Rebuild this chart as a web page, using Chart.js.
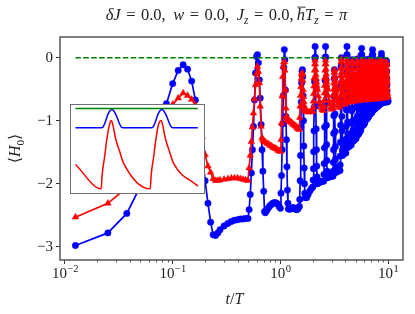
<!DOCTYPE html>
<html>
<head>
<meta charset="utf-8">
<script src="https://cdn.jsdelivr.net/npm/chart.js@4.4.0/dist/chart.umd.min.js"></script>
<style>
  html, body { margin: 0; padding: 0; background: #fff; }
  #wrap { position: relative; width: 415px; height: 314px; }
  canvas { display: block; }
  #inset { position: absolute; left: 70px; top: 104px; width: 135px; height: 90px;
           border: 1.5px solid #707070; box-sizing: border-box; background: #fff; }
</style>
</head>
<body>
<div id="wrap">
  <canvas id="main" width="415" height="314"></canvas>
  <div id="inset"><canvas id="small" width="132" height="87"></canvas></div>
</div>
<script>
// sample times t/T (shared by both series), one revival per row after t = 2
const times = [
  0.0125, 0.025, 0.0375, 0.05, 0.0625, 0.075, 0.0875, 0.1, 0.1125, 0.125, 0.1375, 0.15, 0.1625, 0.175, 0.1875, 0.2, 0.2125, 0.225, 0.2375, 0.25,
  0.2625, 0.275, 0.3, 0.325, 0.35, 0.375, 0.4, 0.425, 0.45, 0.475, 0.5,
  0.5125, 0.525, 0.5375, 0.55, 0.5625, 0.575, 0.5875, 0.6, 0.6125, 0.625, 0.6375, 0.65, 0.6625, 0.675, 0.6875, 0.7, 0.7125,
  0.725, 0.75, 0.775, 0.8, 0.825, 0.85, 0.875, 0.9, 0.925, 0.95, 0.975, 1.0,
  1.0125, 1.025, 1.0375, 1.05, 1.0625, 1.075, 1.0875, 1.1, 1.1125, 1.125, 1.1375, 1.15, 1.1625, 1.175, 1.1875, 1.2,
  1.225, 1.25, 1.275, 1.3, 1.325, 1.35, 1.375, 1.4, 1.425, 1.45, 1.475, 1.5,
  1.5125, 1.525, 1.5375, 1.55, 1.5625, 1.575, 1.5875, 1.6, 1.6125, 1.625, 1.6375, 1.65, 1.6625, 1.675, 1.6875, 1.7,
  1.75, 1.8, 1.85, 1.9, 1.95,
  2.0, 2.0125, 2.025, 2.0375, 2.05, 2.0625, 2.075, 2.0875, 2.1, 2.1125, 2.125, 2.1375, 2.15, 2.1625, 2.175, 2.1875, 2.2, 2.25, 2.3, 2.35, 2.4, 2.45,
  2.525, 2.5375, 2.55, 2.5625, 2.575, 2.5875, 2.6, 2.6125, 2.625, 2.6375, 2.65, 2.6625, 2.675, 2.6875, 2.7, 2.7125, 2.725, 2.775, 2.825, 2.875, 2.925, 2.975,
  3.075, 3.0875, 3.1, 3.1125, 3.125, 3.1375, 3.15, 3.1625, 3.175, 3.1875, 3.2, 3.2125, 3.225, 3.2375, 3.25, 3.2625, 3.275, 3.325, 3.375, 3.425, 3.475, 3.525,
  3.575, 3.5875, 3.6, 3.6125, 3.625, 3.6375, 3.65, 3.6625, 3.675, 3.6875, 3.7, 3.7125, 3.725, 3.7375, 3.75, 3.7625, 3.775, 3.85, 3.925, 4.0,
  4.05, 4.0625, 4.075, 4.0875, 4.1, 4.1125, 4.125, 4.1375, 4.15, 4.1625, 4.175, 4.1875, 4.2, 4.2125, 4.225, 4.2375, 4.25, 4.325, 4.4, 4.475,
  4.55, 4.5625, 4.575, 4.5875, 4.6, 4.6125, 4.625, 4.6375, 4.65, 4.6625, 4.675, 4.6875, 4.7, 4.7125, 4.725, 4.7375, 4.75, 4.825, 4.9, 4.975,
  5.05, 5.0625, 5.075, 5.0875, 5.1, 5.1125, 5.125, 5.1375, 5.15, 5.1625, 5.175, 5.1875, 5.2, 5.2125, 5.225, 5.2375, 5.25, 5.325, 5.4, 5.475,
  5.575, 5.5875, 5.6, 5.6125, 5.625, 5.6375, 5.65, 5.6625, 5.675, 5.6875, 5.7, 5.7125, 5.725, 5.7375, 5.75, 5.7625, 5.775, 5.85, 5.925, 6.0,
  6.075, 6.0875, 6.1, 6.1125, 6.125, 6.1375, 6.15, 6.1625, 6.175, 6.1875, 6.2, 6.2125, 6.225, 6.2375, 6.25, 6.2625, 6.275, 6.35, 6.425, 6.5,
  6.575, 6.5875, 6.6, 6.6125, 6.625, 6.6375, 6.65, 6.6625, 6.675, 6.6875, 6.7, 6.7125, 6.725, 6.7375, 6.75, 6.7625, 6.775, 6.85, 6.925, 7.0,
  7.075, 7.0875, 7.1, 7.1125, 7.125, 7.1375, 7.15, 7.1625, 7.175, 7.1875, 7.2, 7.2125, 7.225, 7.2375, 7.25, 7.2625, 7.275, 7.35, 7.425, 7.5,
  7.575, 7.5875, 7.6, 7.6125, 7.625, 7.6375, 7.65, 7.6625, 7.675, 7.6875, 7.7, 7.7125, 7.725, 7.7375, 7.75, 7.7625, 7.775, 7.85, 7.925, 8.0,
  8.075, 8.0875, 8.1, 8.1125, 8.125, 8.1375, 8.15, 8.1625, 8.175, 8.1875, 8.2, 8.2125, 8.225, 8.2375, 8.25, 8.2625, 8.275, 8.35, 8.425, 8.5,
  8.575, 8.5875, 8.6, 8.6125, 8.625, 8.6375, 8.65, 8.6625, 8.675, 8.6875, 8.7, 8.7125, 8.725, 8.7375, 8.75, 8.7625, 8.775, 8.85, 8.925, 9.0,
  9.075, 9.0875, 9.1, 9.1125, 9.125, 9.1375, 9.15, 9.1625, 9.175, 9.1875, 9.2, 9.2125, 9.225, 9.2375, 9.25, 9.2625, 9.275, 9.35, 9.425, 9.5,
  9.575, 9.5875, 9.6, 9.6125, 9.625, 9.6375, 9.65, 9.6625, 9.675, 9.6875, 9.7, 9.7125, 9.725, 9.7375, 9.75, 9.7625, 9.775, 9.85, 9.925, 10.0
];

// <H0>, blue circles
const blueVals = [
  -2.98, -2.78, -2.47, -2.04, -1.58, -1.13, -0.73, -0.41, -0.20, -0.11, -0.18, -0.37, -0.67, -1.05, -1.50, -1.95, -2.31, -2.61, -2.81, -2.82,
  -2.78, -2.73, -2.67, -2.63, -2.60, -2.58, -2.57, -2.56, -2.56, -2.55, -2.55,
  -2.41, -2.17, -1.83, -1.46, -1.09, -0.67, -0.24, 0.02, 0.05, -0.08, -0.35, -0.64, -1.06, -1.46, -1.80, -2.12, -2.44,
  -2.46, -2.42, -2.38, -2.35, -2.33, -2.31, -2.30, -2.30, -2.31, -2.33, -2.36, -2.39,
  -2.15, -1.87, -1.46, -1.05, -0.60, -0.15, 0.13, -0.03, -0.51, -0.93, -1.30, -1.73, -2.10, -2.31, -2.40, -2.40,
  -2.40, -2.40, -2.39, -2.38, -2.38, -2.39, -2.40, -2.41, -2.41, -2.40, -2.38, -2.36,
  -2.25, -1.95, -1.55, -1.10, -0.70, -0.40, -0.22, -0.19, -0.30, -0.60, -1.00, -1.40, -1.75, -2.00, -2.15, -2.22,
  -2.22, -2.18, -2.13, -2.10, -2.07,
  -2.05, -1.94, -1.76, -1.49, -1.16, -0.78, -0.38, 0.00, 0.18, 0.01, -0.37, -0.76, -1.13, -1.46, -1.72, -1.89, -2.00, -1.99, -1.98, -1.97, -1.96, -1.96,
  -1.96, -1.85, -1.68, -1.43, -1.10, -0.74, -0.36, 0.01, 0.18, 0.01, -0.34, -0.71, -1.07, -1.38, -1.63, -1.80, -1.90, -1.90, -1.89, -1.89, -1.88, -1.88,
  -1.88, -1.80, -1.66, -1.46, -1.20, -0.92, -0.61, -0.33, -0.19, -0.32, -0.60, -0.89, -1.17, -1.41, -1.61, -1.74, -1.82, -1.81, -1.80, -1.80, -1.79, -1.79,
  -1.79, -1.70, -1.56, -1.34, -1.07, -0.77, -0.45, -0.14, 0.00, -0.12, -0.39, -0.67, -0.93, -1.16, -1.35, -1.47, -1.55, -1.53, -1.52, -1.51,
  -1.51, -1.43, -1.29, -1.09, -0.83, -0.55, -0.24, 0.04, 0.18, 0.05, -0.22, -0.51, -0.78, -1.02, -1.21, -1.34, -1.42, -1.41, -1.40, -1.39,
  -1.38, -1.31, -1.20, -1.04, -0.84, -0.61, -0.37, -0.14, -0.03, -0.13, -0.35, -0.58, -0.80, -1.00, -1.15, -1.26, -1.32, -1.31, -1.30, -1.29,
  -1.28, -1.22, -1.12, -0.97, -0.78, -0.56, -0.34, -0.12, -0.02, -0.12, -0.32, -0.54, -0.74, -0.92, -1.06, -1.16, -1.22, -1.21, -1.19, -1.17,
  -1.15, -1.09, -0.98, -0.83, -0.63, -0.41, -0.18, 0.05, 0.15, 0.05, -0.16, -0.38, -0.59, -0.77, -0.92, -1.02, -1.08, -1.07, -1.06, -1.05,
  -1.03, -0.98, -0.90, -0.78, -0.63, -0.46, -0.28, -0.11, -0.03, -0.11, -0.27, -0.44, -0.60, -0.74, -0.86, -0.93, -0.98, -0.97, -0.96, -0.95,
  -0.94, -0.89, -0.82, -0.71, -0.57, -0.42, -0.25, -0.09, -0.02, -0.09, -0.24, -0.40, -0.55, -0.68, -0.79, -0.86, -0.90, -0.89, -0.88, -0.87,
  -0.87, -0.82, -0.74, -0.62, -0.47, -0.30, -0.12, 0.05, 0.13, 0.05, -0.11, -0.28, -0.45, -0.59, -0.71, -0.78, -0.83, -0.82, -0.82, -0.81,
  -0.81, -0.77, -0.71, -0.62, -0.50, -0.37, -0.23, -0.10, -0.04, -0.10, -0.22, -0.36, -0.48, -0.60, -0.68, -0.74, -0.78, -0.77, -0.77, -0.77,
  -0.77, -0.73, -0.67, -0.59, -0.47, -0.35, -0.22, -0.09, -0.03, -0.09, -0.21, -0.34, -0.46, -0.56, -0.65, -0.70, -0.74, -0.74, -0.73, -0.73,
  -0.73, -0.69, -0.63, -0.53, -0.41, -0.27, -0.13, 0.01, 0.07, 0.01, -0.13, -0.27, -0.40, -0.52, -0.61, -0.67, -0.71, -0.71, -0.70, -0.70,
  -0.71, -0.68, -0.62, -0.55, -0.45, -0.33, -0.22, -0.10, -0.05, -0.10, -0.21, -0.33, -0.44, -0.54, -0.62, -0.67, -0.70, -0.70, -0.70, -0.70,
  -0.70, -0.67, -0.62, -0.54, -0.44, -0.33, -0.21, -0.10, -0.05, -0.10, -0.21, -0.33, -0.44, -0.54, -0.62, -0.67, -0.70, -0.70, -0.69, -0.69
];

// <H0>, red triangles
const redVals = [
  -2.53, -2.31, -2.06, -1.76, -1.45, -1.15, -0.90, -0.74, -0.64, -0.56, -0.60, -0.66, -0.75, -0.98, -1.25, -1.54, -1.72, -1.82, -1.92, -1.95,
  -1.95, -1.94, -1.93, -1.92, -1.91, -1.91, -1.91, -1.92, -1.93, -1.94, -1.95,
  -1.75, -1.55, -1.33, -1.10, -0.88, -0.65, -0.43, -0.25, -0.14, -0.22, -0.40, -0.77, -1.09, -1.27, -1.30, -1.32, -1.33,
  -1.34, -1.36, -1.37, -1.39, -1.40, -1.42, -1.43, -1.44, -1.45, -1.47, -1.48, -1.49,
  -1.30, -1.04, -0.61, -0.30, -0.14, -0.07, -0.06, -0.20, -0.51, -0.80, -0.93, -0.96, -0.98, -0.99, -1.00, -1.00,
  -1.01, -1.02, -1.03, -1.05, -1.06, -1.07, -1.08, -1.09, -1.11, -1.12, -1.13, -1.14,
  -0.95, -0.77, -0.60, -0.46, -0.33, -0.26, -0.24, -0.27, -0.36, -0.51, -0.62, -0.70, -0.76, -0.80, -0.83, -0.85,
  -0.85, -0.86, -0.86, -0.86, -0.85,
  -0.85, -0.79, -0.69, -0.57, -0.45, -0.32, -0.20, -0.10, -0.04, -0.10, -0.19, -0.27, -0.33, -0.39, -0.44, -0.48, -0.51, -0.61, -0.69, -0.75, -0.80, -0.83,
  -0.84, -0.78, -0.68, -0.56, -0.44, -0.32, -0.20, -0.10, -0.04, -0.10, -0.18, -0.26, -0.33, -0.38, -0.43, -0.47, -0.50, -0.60, -0.68, -0.74, -0.79, -0.82,
  -0.80, -0.75, -0.68, -0.59, -0.50, -0.40, -0.31, -0.23, -0.19, -0.23, -0.30, -0.36, -0.41, -0.45, -0.49, -0.52, -0.54, -0.62, -0.68, -0.73, -0.76, -0.79,
  -0.76, -0.70, -0.61, -0.50, -0.39, -0.28, -0.17, -0.07, -0.02, -0.07, -0.15, -0.23, -0.29, -0.34, -0.38, -0.42, -0.45, -0.56, -0.67, -0.74,
  -0.72, -0.66, -0.58, -0.48, -0.38, -0.27, -0.17, -0.08, -0.03, -0.08, -0.15, -0.22, -0.28, -0.33, -0.37, -0.40, -0.43, -0.53, -0.64, -0.70,
  -0.70, -0.65, -0.57, -0.47, -0.38, -0.28, -0.18, -0.10, -0.05, -0.10, -0.17, -0.23, -0.28, -0.33, -0.37, -0.40, -0.43, -0.52, -0.62, -0.68,
  -0.69, -0.64, -0.56, -0.47, -0.37, -0.27, -0.18, -0.09, -0.05, -0.09, -0.17, -0.23, -0.28, -0.33, -0.36, -0.40, -0.42, -0.52, -0.61, -0.67,
  -0.68, -0.63, -0.55, -0.46, -0.36, -0.26, -0.17, -0.09, -0.04, -0.09, -0.16, -0.22, -0.27, -0.32, -0.35, -0.39, -0.41, -0.51, -0.60, -0.66,
  -0.67, -0.62, -0.55, -0.46, -0.37, -0.27, -0.18, -0.10, -0.06, -0.10, -0.17, -0.23, -0.28, -0.32, -0.36, -0.39, -0.41, -0.51, -0.60, -0.65,
  -0.67, -0.62, -0.55, -0.45, -0.36, -0.27, -0.17, -0.09, -0.05, -0.09, -0.16, -0.22, -0.27, -0.32, -0.35, -0.38, -0.41, -0.50, -0.60, -0.65,
  -0.66, -0.61, -0.54, -0.45, -0.36, -0.26, -0.17, -0.09, -0.05, -0.09, -0.16, -0.22, -0.27, -0.31, -0.35, -0.38, -0.40, -0.50, -0.59, -0.64,
  -0.66, -0.61, -0.54, -0.45, -0.37, -0.28, -0.19, -0.11, -0.07, -0.11, -0.18, -0.24, -0.28, -0.32, -0.36, -0.39, -0.41, -0.50, -0.59, -0.64,
  -0.65, -0.60, -0.53, -0.44, -0.36, -0.27, -0.18, -0.10, -0.06, -0.10, -0.17, -0.23, -0.27, -0.31, -0.35, -0.38, -0.40, -0.49, -0.58, -0.63,
  -0.65, -0.60, -0.53, -0.44, -0.35, -0.26, -0.17, -0.09, -0.05, -0.09, -0.16, -0.22, -0.27, -0.31, -0.34, -0.37, -0.40, -0.49, -0.58, -0.63,
  -0.64, -0.59, -0.53, -0.44, -0.36, -0.27, -0.18, -0.11, -0.07, -0.11, -0.17, -0.23, -0.28, -0.32, -0.35, -0.38, -0.40, -0.49, -0.57, -0.62,
  -0.64, -0.59, -0.53, -0.44, -0.36, -0.27, -0.18, -0.11, -0.07, -0.11, -0.17, -0.23, -0.28, -0.32, -0.35, -0.38, -0.40, -0.49, -0.57, -0.62
];

// green dashed reference at 0
const refTimes = [0.0125, 10.0];
const refVals = [0, 0];

// inset: one zoomed period pair, arbitrary units
const insetBlueX = [0, 0.1, 0.21, 0.225, 0.24, 0.251, 0.265, 0.28, 0.297, 0.315, 0.33, 0.346, 0.36, 0.375, 0.39, 0.5,
                    0.619, 0.634, 0.649, 0.66, 0.674, 0.689, 0.706, 0.724, 0.739, 0.755, 0.769, 0.784, 0.799, 0.9, 1.0];
const insetBlueY = [-0.72, -0.72, -0.72, -0.69, -0.55, -0.40, -0.22, -0.09, -0.04, -0.10, -0.23, -0.40, -0.57, -0.69, -0.72, -0.72,
                    -0.72, -0.69, -0.55, -0.40, -0.22, -0.09, -0.04, -0.10, -0.23, -0.40, -0.57, -0.69, -0.72, -0.72, -0.72];
const insetRedX = [0, 0.21, 0.218, 0.237, 0.256, 0.278, 0.292, 0.305, 0.327, 0.36, 0.392,
                   0.611, 0.619, 0.638, 0.657, 0.679, 0.699, 0.712, 0.734, 0.767, 0.8, 1.0];
const insetRedY = [-2.09, -3.0, -2.47, -1.84, -1.16, -0.60, -0.45, -0.60, -1.10, -1.59, -2.03,
                   -3.0, -2.47, -1.84, -1.16, -0.60, -0.45, -0.60, -1.10, -1.59, -2.03, -2.90];
const insetGreenX = [0, 1];
const insetGreenY = [0, 0];

// axis ticks
const xMajor = [0.01, 0.1, 1, 10];
const xExponents = ['\u22122', '\u22121', '0', '1'];
const xMinor = [0.02, 0.03, 0.04, 0.05, 0.06, 0.07, 0.08, 0.09,
                0.2, 0.3, 0.4, 0.5, 0.6, 0.7, 0.8, 0.9,
                2, 3, 4, 5, 6, 7, 8, 9];
const yTicks = [0, -1, -2, -3];
const yTickLabels = ['0', '\u22121', '\u22122', '\u22123'];

const SERIF = '"Liberation Serif", "DejaVu Serif", serif';

const toPoints = (xs, ys) => xs.map((x, i) => ({ x: x, y: ys[i] }));

// draw a row of text pieces: {t, it: italic, sub: subscript, bar: overline}
function drawRich(ctx, parts, cx, y, size) {
  const fontOf = p => (p.it ? 'italic ' : '') + (p.sub ? size * 0.7 : size) + 'px ' + SERIF;
  let total = 0;
  const widths = parts.map(p => { ctx.font = fontOf(p); const w = ctx.measureText(p.t).width; total += w; return w; });
  let x = cx - total / 2;
  parts.forEach((p, i) => {
    ctx.font = fontOf(p);
    ctx.fillText(p.t, x, y + (p.sub ? size * 0.22 : 0));
    if (p.bar) {
      ctx.save();
      ctx.lineWidth = 0.9;
      ctx.strokeStyle = ctx.fillStyle;
      ctx.beginPath();
      ctx.moveTo(x + 0.5, y - size * 0.78);
      ctx.lineTo(x + widths[i] + 0.5, y - size * 0.78);
      ctx.stroke();
      ctx.restore();
    }
    x += widths[i];
  });
}

const EQ = '\u2004=\u2004';
const SEP = ', \u2009';
const titleParts = [
  { t: '\u03b4', it: true }, { t: 'J', it: true }, { t: EQ + '0.0' + SEP },
  { t: 'w', it: true }, { t: EQ + '0.0' + SEP },
  { t: 'J', it: true }, { t: 'z', it: true, sub: true }, { t: EQ + '0.0,\u2009' },
  { t: 'h', it: true, bar: true }, { t: 'T', it: true }, { t: 'z', it: true, sub: true }, { t: EQ },
  { t: '\u03c0', it: true }
];
const xLabelParts = [{ t: 't', it: true }, { t: '/' }, { t: 'T', it: true }];
const yLabelParts = [{ t: '\u27e8' }, { t: 'H', it: true }, { t: '0', sub: true }, { t: '\u27e9' }];

const framePlugin = {
  id: 'frame',
  afterDraw(chart) {
    const { ctx, chartArea: a, scales } = chart;
    ctx.save();
    // minor ticks on the log axis
    ctx.strokeStyle = '#333';
    ctx.lineWidth = 0.8;
    xMinor.forEach(v => {
      const px = Math.round(scales.x.getPixelForValue(v)) + 0.5;
      ctx.beginPath();
      ctx.moveTo(px, a.bottom);
      ctx.lineTo(px, a.bottom + 2.5);
      ctx.stroke();
    });
    // axes box
    ctx.strokeStyle = '#555';
    ctx.lineWidth = 1.5;
    ctx.strokeRect(a.left, a.top, a.right - a.left, a.bottom - a.top);

    ctx.fillStyle = '#222';
    ctx.textBaseline = 'alphabetic';
    // x tick labels 10^n
    xMajor.forEach((v, i) => {
      const px = scales.x.getPixelForValue(v);
      ctx.font = '15px ' + SERIF;
      const wb = ctx.measureText('10').width;
      ctx.font = '10.5px ' + SERIF;
      const we = ctx.measureText(xExponents[i]).width;
      const x0 = px - (wb + we) / 2;
      ctx.font = '15px ' + SERIF;
      ctx.fillText('10', x0, 278);
      ctx.font = '10.5px ' + SERIF;
      ctx.fillText(xExponents[i], x0 + wb + 0.5, 272);
    });

    drawRich(ctx, titleParts, (a.left + a.right) / 2 - 5, 20, 16.5);
    drawRich(ctx, xLabelParts, (a.left + a.right) / 2 + 3, 304, 16);
    ctx.translate(20, (a.top + a.bottom) / 2);
    ctx.rotate(-Math.PI / 2);
    drawRich(ctx, yLabelParts, 0, 0, 16);
    ctx.restore();
  }
};

new Chart(document.getElementById('main'), {
  type: 'scatter',
  data: {
    datasets: [
      { data: toPoints(refTimes, refVals), showLine: true, borderColor: '#008000', borderWidth: 1.5,
        borderDash: [5.5, 2.4], pointRadius: 0 },
      { data: toPoints(times, redVals), showLine: true, borderColor: '#ff0000', backgroundColor: '#ff0000',
        borderWidth: 1.7, pointStyle: 'triangle', pointRadius: 3.8, pointBorderWidth: 0.5 },
      { data: toPoints(times, blueVals), showLine: true, borderColor: '#0000ff', backgroundColor: '#0000ff',
        borderWidth: 1.7, pointStyle: 'circle', pointRadius: 3.2, pointBorderWidth: 0.5 }
    ]
  },
  options: {
    responsive: false,
    animation: false,
    events: [],
    layout: { padding: { top: 37, right: 12, left: 0, bottom: 0 } },
    plugins: { legend: { display: false }, tooltip: { enabled: false } },
    scales: {
      x: {
        type: 'logarithmic',
        min: 0.008987,
        max: 13.75,
        afterBuildTicks: s => { s.ticks = xMajor.map(v => ({ value: v })); },
        afterFit: s => { s.height = 54; },
        border: { display: false },
        grid: { drawOnChartArea: false, tickLength: 4, tickColor: '#333', tickWidth: 1 },
        ticks: { display: false }
      },
      y: {
        min: -3.21,
        max: 0.33,
        afterBuildTicks: s => { s.ticks = yTicks.map(v => ({ value: v })); },
        afterFit: s => { s.width = 60; },
        border: { display: false },
        grid: { drawOnChartArea: false, tickLength: 4, tickColor: '#333', tickWidth: 1 },
        ticks: {
          padding: 3,
          color: '#222',
          font: { family: SERIF, size: 15 },
          callback: (v, i) => yTickLabels[i]
        }
      }
    }
  },
  plugins: [framePlugin]
});

new Chart(document.getElementById('small'), {
  type: 'scatter',
  data: {
    datasets: [
      { data: toPoints(insetGreenX, insetGreenY), showLine: true, borderColor: '#008000', borderWidth: 1.5, pointRadius: 0 },
      { data: toPoints(insetBlueX, insetBlueY), showLine: true, borderColor: '#0000ff', borderWidth: 1.5, pointRadius: 0,
        cubicInterpolationMode: 'monotone' },
      { data: toPoints(insetRedX, insetRedY), showLine: true, borderColor: '#ff0000', borderWidth: 1.5, pointRadius: 0,
        cubicInterpolationMode: 'monotone' }
    ]
  },
  options: {
    responsive: false,
    animation: false,
    events: [],
    layout: { padding: 0 },
    plugins: { legend: { display: false }, tooltip: { enabled: false } },
    scales: {
      x: { type: 'linear', display: false, min: -0.0368, max: 1.0425 },
      y: { type: 'linear', display: false, min: -3.119, max: 0.131 }
    }
  }
});
</script>
</body>
</html>
